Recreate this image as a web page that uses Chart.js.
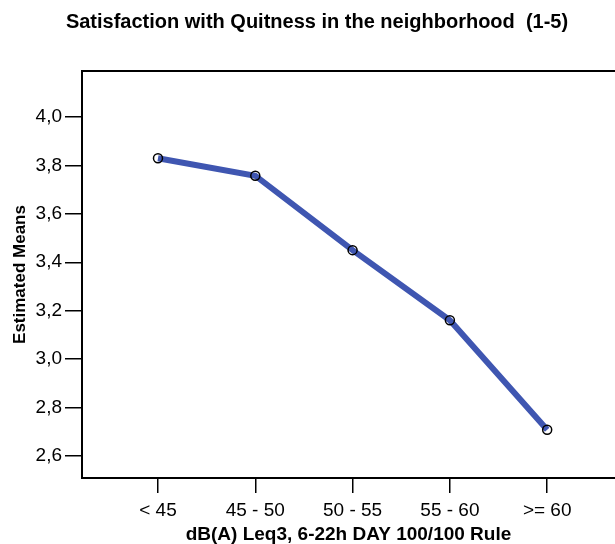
<!DOCTYPE html>
<html>
<head>
<meta charset="utf-8">
<script src="https://cdn.jsdelivr.net/npm/chart.js@4/dist/chart.umd.min.js"></script>
<style>
  html,body{margin:0;padding:0;background:#fff;}
  #chart{display:block;}
</style>
</head>
<body>
<canvas id="chart" width="615" height="544"></canvas>
<script>
const TITLE = 'Satisfaction with Quitness in the neighborhood  (1-5)';
const X_TITLE = 'dB(A) Leq3, 6-22h DAY 100/100 Rule';
const Y_TITLE = 'Estimated Means';
const categories = ['< 45', '45 - 50', '50 - 55', '55 - 60', '>= 60'];
const meanValues = [3.829, 3.757, 3.450, 3.161, 2.709];
const yTicks = [2.6, 2.8, 3.0, 3.2, 3.4, 3.6, 3.8, 4.0];

const FONT = "'Liberation Sans', Arial, Helvetica, sans-serif";
const LINE_BLUE = '#3f56b1';

// title drawn by hand so it can sit off-centre like the original
const titlePlugin = {
  id: 'spssTitle',
  afterDraw(chart) {
    const ctx = chart.ctx;
    ctx.save();
    ctx.font = `bold 20px ${FONT}`;
    ctx.fillStyle = '#000';
    ctx.textAlign = 'center';
    ctx.textBaseline = 'middle';
    ctx.fillText(TITLE, 317, 22);
    ctx.restore();
  }
};

// top edge of the frame (left/bottom come from the axis borders)
const frameTop = {
  id: 'frameTop',
  beforeDatasetsDraw(chart) {
    const {ctx, chartArea: a} = chart;
    ctx.save();
    ctx.strokeStyle = '#000';
    ctx.lineWidth = 2;
    ctx.beginPath();
    ctx.moveTo(a.left - 1, a.top);
    ctx.lineTo(a.right, a.top);
    ctx.stroke();
    ctx.restore();
  }
};

new Chart(document.getElementById('chart'), {
  type: 'line',
  data: {
    datasets: [{
      data: meanValues.map((v, i) => ({x: i, y: v})),
      borderColor: LINE_BLUE,
      borderWidth: 6,
      pointRadius: 4.5,
      pointBorderWidth: 1.5,
      pointBorderColor: '#000',
      pointBackgroundColor: 'rgba(0,0,0,0)',
      tension: 0
    }]
  },
  options: {
    responsive: false,
    animation: false,
    layout: {autoPadding: false, padding: {top: 71, left: 0, right: 0, bottom: 0}},
    plugins: {legend: {display: false}, tooltip: {enabled: false}, title: {display: false}},
    scales: {
      x: {
        type: 'linear',
        min: -0.781,
        max: 4.697,
        afterBuildTicks: s => { s.ticks = categories.map((c, i) => ({value: i})); },
        afterFit: s => { s.height = 66; },
        grid: {drawOnChartArea: false, drawTicks: true, tickLength: 15, color: '#000', lineWidth: 1.5},
        border: {display: true, color: '#000', width: 2},
        ticks: {
          color: '#000', padding: 6, maxRotation: 0, autoSkip: false,
          font: {family: FONT, size: 19},
          callback: v => categories[v]
        },
        title: {
          display: true, text: X_TITLE, color: '#000',
          font: {family: FONT, size: 19, weight: 'bold', lineHeight: 1},
          padding: {top: 0, bottom: 0}
        }
      },
      y: {
        min: 2.510,
        max: 4.189,
        afterBuildTicks: s => { s.ticks = yTicks.map(v => ({value: v})); },
        afterFit: s => { s.width = 82; },
        grid: {drawOnChartArea: false, drawTicks: true, tickLength: 17, color: '#000', lineWidth: 1.5},
        border: {display: true, color: '#000', width: 2},
        ticks: {
          color: '#000', padding: 3,
          font: {family: FONT, size: 19},
          callback: v => v.toFixed(1).replace('.', ',')
        },
        title: {
          display: true, text: Y_TITLE, color: '#000',
          font: {family: FONT, size: 17, weight: 'bold', lineHeight: 1},
          padding: {top: 12, bottom: 0}
        }
      }
    }
  },
  plugins: [frameTop, titlePlugin]
});
</script>
</body>
</html>
